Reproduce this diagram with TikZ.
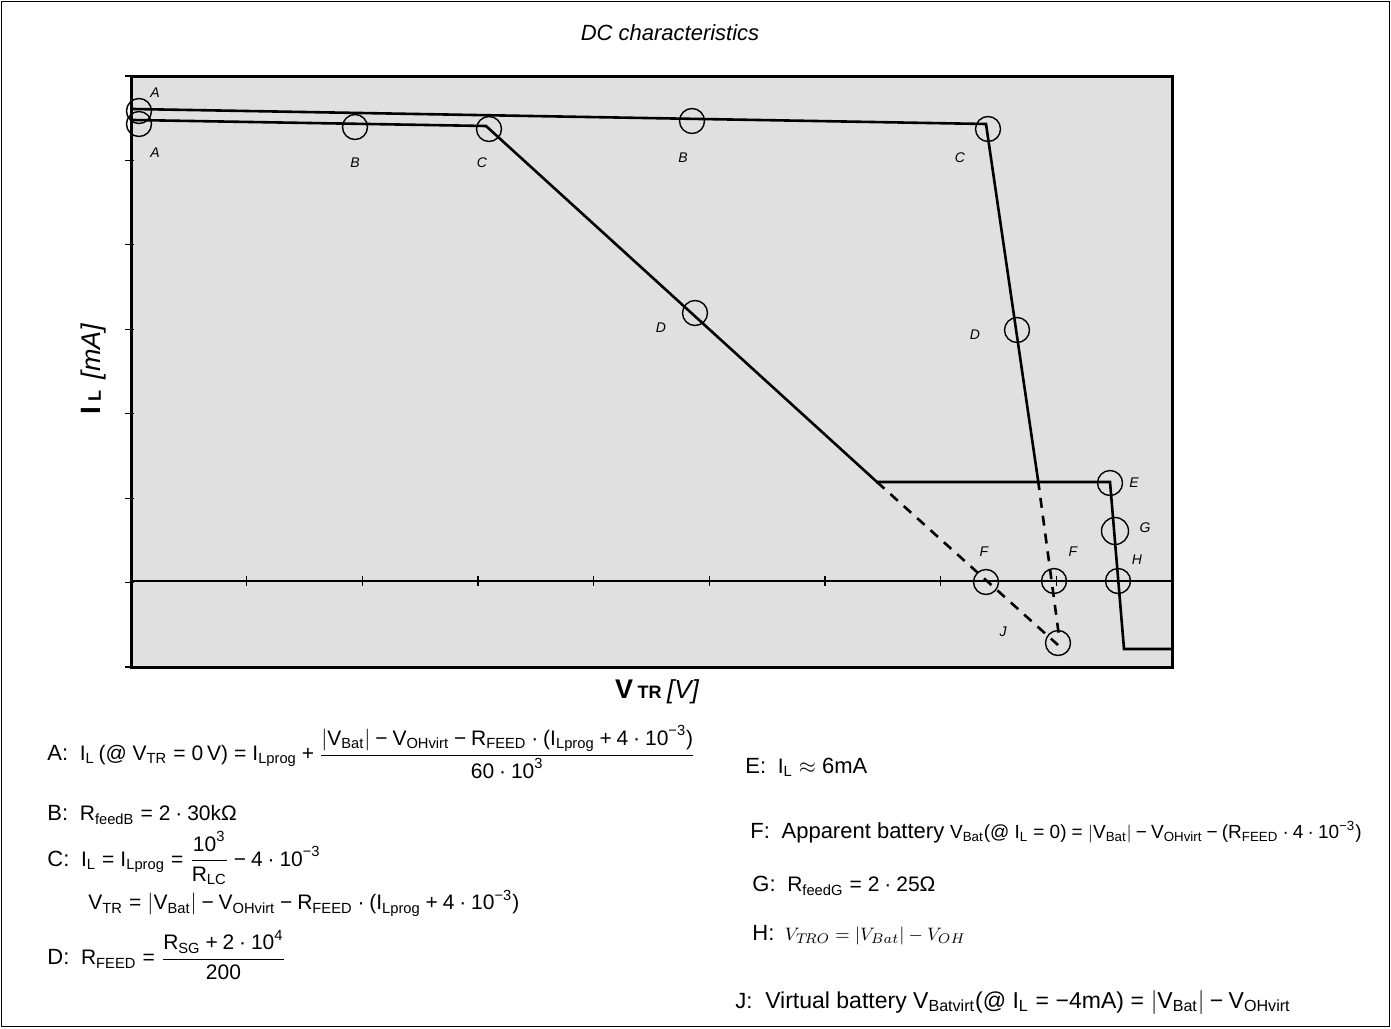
\documentclass[tikz,border=0pt]{standalone}
\usepackage{amsmath}
\usepackage{fontspec}
\setmainfont{Liberation Sans}
\usetikzlibrary{positioning}

\definecolor{plotgray}{gray}{0.88}
\newcommand{\vq}[2]{\text{#1}_{\text{#2}}}
\newcommand{\eqlbl}[1]{{\fontsize{11}{13}\selectfont #1:}\ \ }
\newcommand{\eqs}{\mathrel{\text{=}}}
\newcommand{\mns}{\mathbin{\text{−}}}
\newcommand{\pls}{\mathbin{\text{+}}}
\newcommand{\cdt}{\mathbin{\text{·}}}
\newcommand{\tn}[1]{\text{10}^{\text{#1}}}
\newcommand{\lp}{\mathopen{\text{(}}}
\newcommand{\rp}{\mathclose{\text{)}}}

\begin{document}
\begin{tikzpicture}[x=0.5pt,y=-0.5pt,
  ring/.style={shape=circle,draw=black,line width=0.7pt,minimum size=12.5pt,inner sep=0pt},
  ptlabel/.style={font=\fontsize{7}{8}\selectfont\itshape},
  curve/.style={line width=1.3pt,line join=miter},
  dashcurve/.style={curve,dash pattern=on 5pt off 4pt},
  formula/.style={anchor=west,inner sep=0pt,font=\fontsize{10.5}{12}\selectfont}]
\useasboundingbox (0,0) rectangle (1391,1028);
\draw[line width=0.6pt] (1.5,1.5) rectangle (1389.5,1026.5);

% plot area
\fill[plotgray] (131,76) rectangle (1172,667);
\foreach \k in {0,...,7}
  \draw[line width=0.6pt] (125,{76+\k*84.43}) -- (134,{76+\k*84.43});
\draw[line width=0.6pt] (131,581) -- (1172,581);
\foreach \k in {1,...,8}
  \draw[line width=0.6pt] ({131+\k*115.67},576) -- ({131+\k*115.67},586);
\draw[line width=1.5pt] (131,76) rectangle (1172,667);

\node[font=\fontsize{11}{13}\selectfont\itshape] at (670,33) (title) {DC characteristics};
\node[rotate=90] at (94,369) (ylab) {{\fontsize{14}{16}\selectfont\bfseries I\,{\fontsize{9}{10}\selectfont L}}\ \ {\fontsize{13.5}{16}\selectfont\itshape [mA]}};
\node at (657,692) (xlab) {{\fontsize{13.5}{16}\selectfont\bfseries V\,{\fontsize{9}{10}\selectfont TR}}\ {\fontsize{13}{16}\selectfont\itshape [V]}};

% curves
\coordinate (uA) at (133,109);
\coordinate (uC) at (986,124);
\coordinate (uE) at (1038,480);
\coordinate (uJ) at (1059,636);
\coordinate (lA) at (133,120);
\coordinate (lC) at (486,126);
\coordinate (lK) at (877,482);
\coordinate (lE) at (1110,482);
\coordinate (lH) at (1124,649);
\coordinate (lR) at (1172,649);
\coordinate (lJ) at (1058,645);
\draw[curve] (uA) -- (uC) -- (uE);
\draw[dashcurve] (uE) -- (uJ);
\draw[curve] (lA) -- (lC) -- (lK) -- (lE) -- (lH) -- (lR);
\draw[dashcurve] (lK) -- (lJ);

% marks
\node[ring] at (139,111) (cA1) {};
\node[ring] at (139,124) (cA2) {};
\node[ring] at (355,127) (cB1) {};
\node[ring] at (489,129) (cC1) {};
\node[ring] at (692,121) (cB2) {};
\node[ring] at (988,129) (cC2) {};
\node[ring] at (695,313) (cD1) {};
\node[ring] at (1017,330) (cD2) {};
\node[ring] at (1110,483) (cE) {};
\node[ring,minimum size=13.5pt] at (1115,531) (cG) {};
\node[ring] at (1118,581) (cH) {};
\node[ring] at (986,582) (cF1) {};
\node[ring] at (1054,581) (cF2) {};
\node[ring] at (1058,643) (cJ) {};

\node[ptlabel] at (155,93) (tA1) {A};
\node[ptlabel] at (155,153) (tA2) {A};
\node[ptlabel] at (355,163) (tB1) {B};
\node[ptlabel] at (482,163) (tC1) {C};
\node[ptlabel] at (683,158) (tB2) {B};
\node[ptlabel] at (960,158) (tC2) {C};
\node[ptlabel] at (661,328) (tD1) {D};
\node[ptlabel] at (975,335) (tD2) {D};
\node[ptlabel] at (1134,483) (tE) {E};
\node[ptlabel] at (1145,528) (tG) {G};
\node[ptlabel] at (1137,560) (tH) {H};
\node[ptlabel] at (984,552) (tF1) {F};
\node[ptlabel] at (1073,552) (tF2) {F};
\node[ptlabel] at (1003,632) (tJ) {J};

% formulas
\node[formula] at (47,752) (fA) {\eqlbl{A}$\vq{I}{L}\,\lp\text{@ }\vq{V}{TR}\eqs\text{0}\,\text{V}\rp\eqs\vq{I}{Lprog}\pls\dfrac{\left|\vq{V}{Bat}\right|\mns\vq{V}{OHvirt}\mns\vq{R}{FEED}\cdt\lp\vq{I}{Lprog}\pls\text{4}\cdt\tn{−3}\rp}{\text{60}\cdt\tn{3}}$};
\node[formula] at (47,815) (fB) {\eqlbl{B}$\vq{R}{feedB}\eqs\text{2}\cdt\text{30kΩ}$};
\node[formula] at (47,858) (fC) {\eqlbl{C}$\vq{I}{L}\eqs\vq{I}{Lprog}\eqs\dfrac{\tn{3}}{\vq{R}{LC}}\mns\text{4}\cdt\tn{−3}$};
\node[formula] at (88,903) (fC2) {$\vq{V}{TR}\eqs\left|\vq{V}{Bat}\right|\mns\vq{V}{OHvirt}\mns\vq{R}{FEED}\cdt\lp\vq{I}{Lprog}\pls\text{4}\cdt\tn{−3}\rp$};
\node[formula] at (47,955) (fD) {\eqlbl{D}$\vq{R}{FEED}\eqs\dfrac{\vq{R}{SG}\pls\text{2}\cdt\tn{4}}{\text{200}}$};
\node[formula] at (745,767) (fE) {\eqlbl{E}$\vq{I}{L}\approx\text{\fontsize{11}{13}\selectfont 6mA}$};
\node[formula] at (750,832) (fF) {\eqlbl{F}{\fontsize{11}{13}\selectfont Apparent battery} {\fontsize{9.5}{11}\selectfont$\vq{V}{Bat}\lp\text{@ }\vq{I}{L}\eqs\text{0}\rp\eqs\left|\vq{V}{Bat}\right|\mns\vq{V}{OHvirt}\mns\lp\vq{R}{FEED}\cdt\text{4}\cdt\tn{−3}\rp$}};
\node[formula] at (752,886) (fG) {\eqlbl{G}$\vq{R}{feedG}\eqs\text{2}\cdt\text{25Ω}$};
\node[formula,font=\fontsize{9.5}{11}\selectfont] at (752,935) (fH) {\eqlbl{H}$V_{T\!RO}=\left|V_{Bat}\right|-V_{OH}$};
\node[formula,font=\fontsize{11.5}{13}\selectfont] at (735,1002) (fJ) {\eqlbl{J}Virtual battery $\vq{V}{Batvirt}\lp\text{@ }\vq{I}{L}\eqs\text{−4mA}\rp\eqs\left|\vq{V}{Bat}\right|\mns\vq{V}{OHvirt}$};
\end{tikzpicture}
\end{document}
